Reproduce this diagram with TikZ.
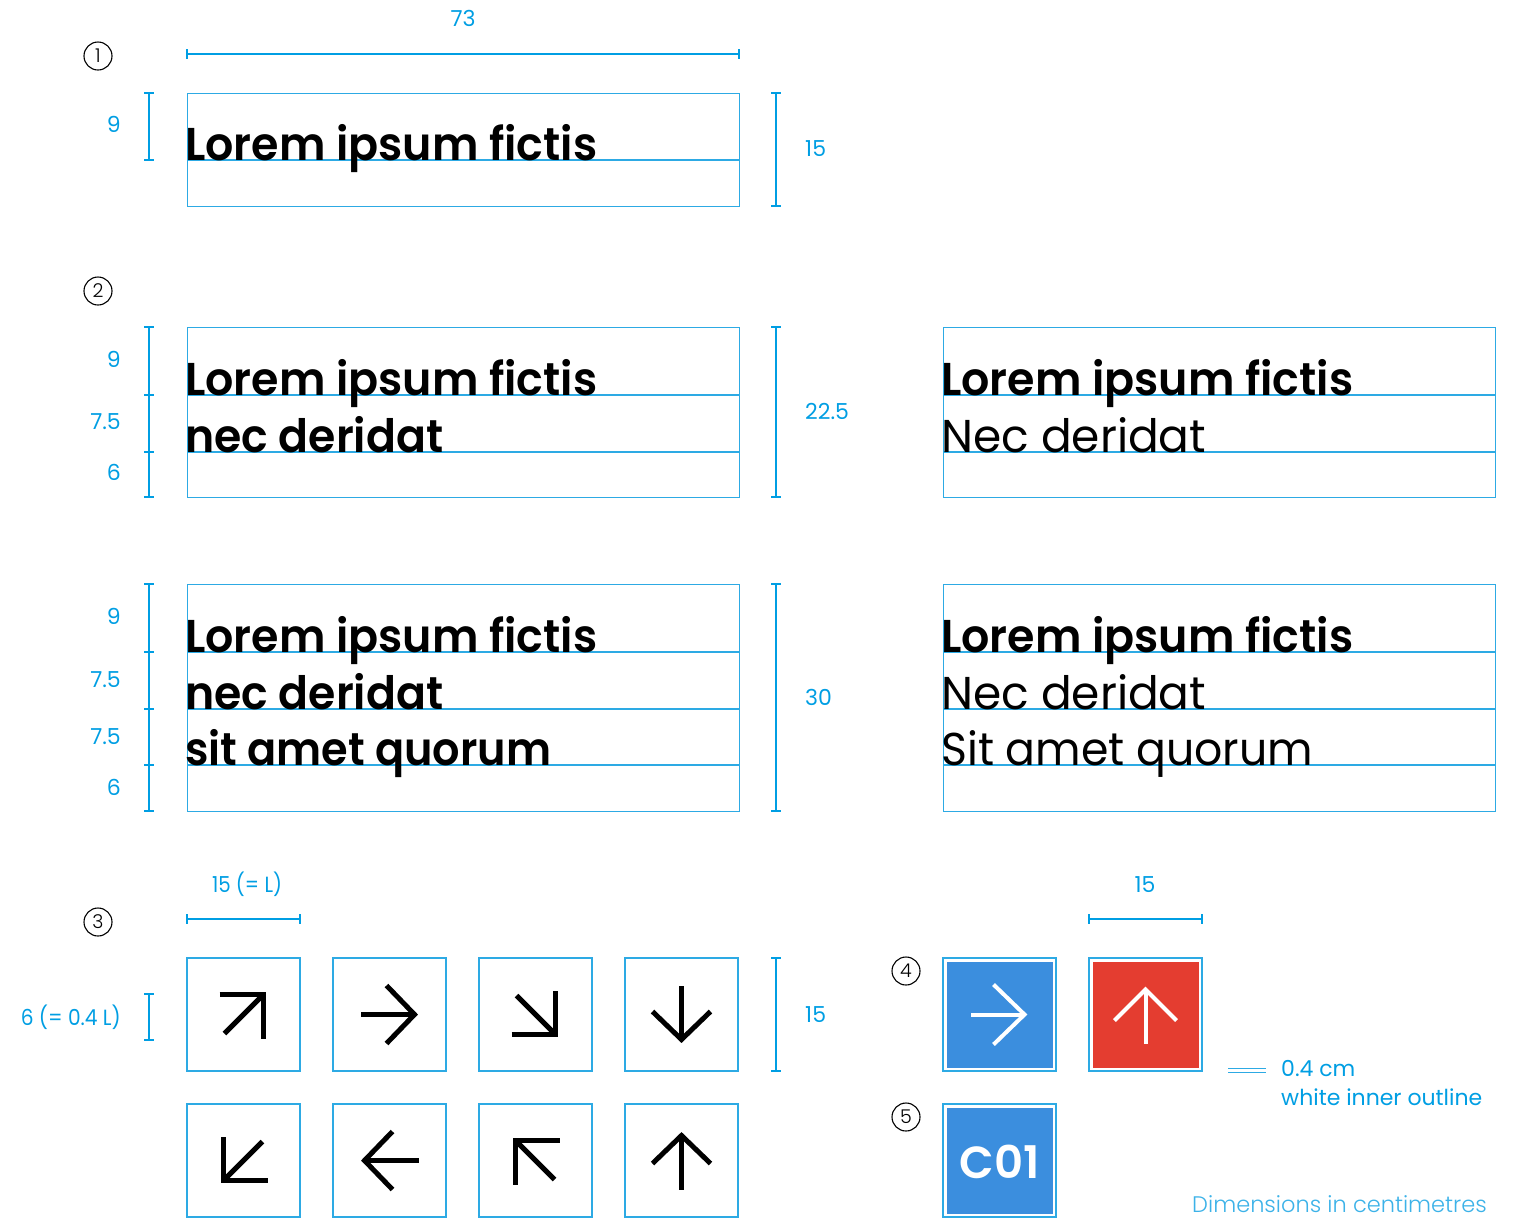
\documentclass[tikz,border=0pt]{standalone}
\usepackage{fontspec}
\setmainfont{Poppins}[BoldFont={Poppins SemiBold}]
\newfontfamily\lightf{Poppins Light}
\usepackage{graphicx}
\definecolor{dimc}{RGB}{0,158,227}
\definecolor{boxc}{RGB}{45,170,228}
\definecolor{notec}{RGB}{60,178,232}
\definecolor{signblue}{RGB}{59,142,222}
\definecolor{signred}{RGB}{228,61,48}
\newcommand\bigtxt{\fontsize{46}{50}\selectfont}
\newcommand\btext[2]{{\bigtxt\bfseries\resizebox{#1pt}{\height}{#2}}}
\newcommand\rtext[2]{{\bigtxt\resizebox{#1pt}{\height}{#2}}}
% diagonal arrow: cx, cy, sx, sy, colour, width
\newcommand\icndiag[6]{%
  \draw[line width=#6, draw=#5, line join=miter, miter limit=10]
    ({#1+20*#3-44*#3},{#2+20*#4}) -- ({#1+20*#3},{#2+20*#4}) -- ({#1+20*#3},{#2+20*#4-44*#4});
  \draw[line width=#6, draw=#5] ({#1+20*#3},{#2+20*#4}) -- ({#1-19*#3},{#2-19*#4});}
% straight arrow: cx, cy, dx, dy, colour, width, armback, armspread
\newcommand\icnstraight[8]{%
  \draw[line width=#6, draw=#5, line join=miter, miter limit=10]
    ({#1+25*#3-#7*#3+#8*#4},{#2+25*#4-#7*#4+#8*#3}) -- ({#1+25*#3},{#2+25*#4}) -- ({#1+25*#3-#7*#3-#8*#4},{#2+25*#4-#7*#4-#8*#3});
  \draw[line width=#6, draw=#5] ({#1+25*#3},{#2+25*#4}) -- ({#1-29*#3},{#2-29*#4});}
\tikzset{
  boxframe/.style={draw=boxc, line width=1.4pt, minimum width=552pt, anchor=north west, inner sep=0pt},
  guide/.style={draw=boxc, line width=1.2pt},
  dimline/.style={draw=dimc, line width=1.8pt},
  lbl/.style={text=dimc, font=\fontsize{22}{26}\selectfont, inner sep=0pt},
  bigt/.style={inner sep=0pt, anchor=base west},
  num/.style={circle, draw=black, line width=1.1pt, minimum size=28pt, inner sep=0pt, font=\lightf\fontsize{19}{20}\selectfont},
  iconbox/.style={draw=boxc, line width=1.4pt, minimum size=113pt, inner sep=0pt},
  signout/.style={draw=boxc, line width=1.3pt, minimum size=113pt, inner sep=0pt},
}
\begin{document}
\begin{tikzpicture}[x=1pt,y=-1pt]
\useasboundingbox (0,0) rectangle (1514,1219);

% ---------- circled numbers
\node[num] (n1) at (98,56) {1};
\node[num] (n2) at (98,291) {2};
\node[num] (n3) at (98,922) {3};
\node[num] (n4) at (906,971) {4};
\node[num] (n5) at (906,1117) {5};

% ---------- section 1
\coordinate (w1a) at (187,54); \coordinate (w1b) at (739,54);
\draw[dimline] (w1a) -- (w1b);
\draw[dimline] (187,49) -- (187,59); \draw[dimline] (739,49) -- (739,59);
\node[lbl, anchor=base] (l73) at (463,26) {73};

\node[boxframe, minimum height=113pt] (b1) at (187,93) {};
\draw[guide] (187,160) -- (739,160);
\node[bigt] (t1) at (185,160) {\btext{412}{Lorem ipsum fictis}};

\draw[dimline] (149,93) -- (149,160);
\foreach \yy in {93,160} \draw[dimline] (144,\yy) -- (154,\yy);
\node[lbl, anchor=base east] (l9a) at (121,132) {9};
\draw[dimline] (776,93) -- (776,206);
\foreach \yy in {93,206} \draw[dimline] (771,\yy) -- (781,\yy);
\node[lbl, anchor=base west] (l15a) at (805,156) {15};

% ---------- section 2
\node[boxframe, minimum height=170pt] (b2) at (187,327) {};
\draw[guide] (187,395) -- (739,395);
\draw[guide] (187,452) -- (739,452);
\node[bigt] (t2a) at (185,395) {\btext{412}{Lorem ipsum fictis}};
\node[bigt] (t2b) at (185,452) {\btext{258}{nec deridat}};

\draw[dimline] (149,327) -- (149,497);
\foreach \yy in {327,395,452,497} \draw[dimline] (144,\yy) -- (154,\yy);
\node[lbl, anchor=base east] (l9b) at (121,367) {9};
\node[lbl, anchor=base east] (l75b) at (121,429) {7.5};
\node[lbl, anchor=base east] (l6b) at (121,480) {6};
\draw[dimline] (776,327) -- (776,497);
\foreach \yy in {327,497} \draw[dimline] (771,\yy) -- (781,\yy);
\node[lbl, anchor=base west] (l225) at (805,419) {22.5};

\node[boxframe, minimum height=170pt] (b2r) at (943,327) {};
\draw[guide] (943,395) -- (1495,395);
\draw[guide] (943,452) -- (1495,452);
\node[bigt] (t2c) at (941,395) {\btext{412}{Lorem ipsum fictis}};
\node[bigt] (t2d) at (941,452) {\rtext{265}{Nec deridat}};

% ---------- section 2b
\node[boxframe, minimum height=227pt] (b3) at (187,584) {};
\foreach \yy in {652,709,765} \draw[guide] (187,\yy) -- (739,\yy);
\node[bigt] (t3a) at (185,652) {\btext{412}{Lorem ipsum fictis}};
\node[bigt] (t3b) at (185,709) {\btext{258}{nec deridat}};
\node[bigt] (t3c) at (185,765) {\btext{366}{sit amet quorum}};

\draw[dimline] (149,584) -- (149,811);
\foreach \yy in {584,652,709,765,811} \draw[dimline] (144,\yy) -- (154,\yy);
\node[lbl, anchor=base east] (l9c) at (121,624) {9};
\node[lbl, anchor=base east] (l75c) at (121,687) {7.5};
\node[lbl, anchor=base east] (l75d) at (121,744) {7.5};
\node[lbl, anchor=base east] (l6c) at (121,795) {6};
\draw[dimline] (776,584) -- (776,811);
\foreach \yy in {584,811} \draw[dimline] (771,\yy) -- (781,\yy);
\node[lbl, anchor=base west] (l30) at (805,705) {30};

\node[boxframe, minimum height=227pt] (b3r) at (943,584) {};
\foreach \yy in {652,709,765} \draw[guide] (943,\yy) -- (1495,\yy);
\node[bigt] (t3d) at (941,652) {\btext{412}{Lorem ipsum fictis}};
\node[bigt] (t3e) at (941,709) {\rtext{265}{Nec deridat}};
\node[bigt] (t3f) at (941,765) {\rtext{372}{Sit amet quorum}};

% ---------- section 3: arrows
\draw[dimline] (187,919) -- (300,919);
\draw[dimline] (187,914) -- (187,924); \draw[dimline] (300,914) -- (300,924);
\node[lbl, anchor=base] (l15L) at (247,892) {\resizebox{70pt}{\height}{15 (= L)}};

\draw[dimline] (149,994) -- (149,1040);
\foreach \yy in {994,1040} \draw[dimline] (144,\yy) -- (154,\yy);
\node[lbl, anchor=base east] (l6L) at (121,1025) {\resizebox{100pt}{\height}{6 (= 0.4 L)}};

\draw[dimline] (776,958) -- (776,1071);
\foreach \yy in {958,1071} \draw[dimline] (771,\yy) -- (781,\yy);
\node[lbl, anchor=base west] (l15b) at (805,1022) {15};

\node[iconbox] (i1) at (243.5,1014.5) {};
\node[iconbox] (i2) at (389.5,1014.5) {};
\node[iconbox] (i3) at (535.5,1014.5) {};
\node[iconbox] (i4) at (681.5,1014.5) {};
\node[iconbox] (i5) at (243.5,1160.5) {};
\node[iconbox] (i6) at (389.5,1160.5) {};
\node[iconbox] (i7) at (535.5,1160.5) {};
\node[iconbox] (i8) at (681.5,1160.5) {};

\icndiag{243.5}{1014.5}{1}{-1}{black}{5pt}
\icnstraight{389.5}{1014.5}{1}{0}{black}{5pt}{28}{29}
\icndiag{535.5}{1014.5}{1}{1}{black}{5pt}
\icnstraight{681.5}{1014.5}{0}{1}{black}{5pt}{28}{29}
\icndiag{243.5}{1160.5}{-1}{1}{black}{5pt}
\icnstraight{389.5}{1160.5}{-1}{0}{black}{5pt}{28}{29}
\icndiag{535.5}{1160.5}{-1}{-1}{black}{5pt}
\icnstraight{681.5}{1160.5}{0}{-1}{black}{5pt}{28}{29}

% ---------- section 4
\draw[dimline] (1089,919) -- (1202,919);
\draw[dimline] (1089,914) -- (1089,924); \draw[dimline] (1202,914) -- (1202,924);
\node[lbl, anchor=base] (l15c) at (1145,892) {15};

\node[signout] (s1) at (999.5,1014.5) {};
\fill[signblue] (946.5,961.5) rectangle (1052.5,1067.5);
\icnstraight{999.5}{1014.5}{1}{0}{white}{4pt}{31}{30}
\node[signout] (s2) at (1145.5,1014.5) {};
\fill[signred] (1092.5,961.5) rectangle (1198.5,1067.5);
\icnstraight{1145.5}{1014.5}{0}{-1}{white}{4pt}{31}{31}

\draw[boxc, line width=1pt] (1228,1068) -- (1266,1068);
\draw[boxc, line width=1pt] (1228,1072) -- (1266,1072);
\node[lbl, anchor=base west] (l04) at (1281,1076) {0.4 cm};
\node[lbl, anchor=base west] (lwh) at (1281,1105) {white inner outline};

% ---------- section 5
\node[signout] (s3) at (999.5,1160.5) {};
\fill[signblue] (946.5,1107.5) rectangle (1052.5,1213.5);
\node[text=white, font=\fontsize{45}{48}\selectfont\bfseries, inner sep=0pt] (c01) at (999.5,1162) {C01};

\node[lbl, text=notec, font=\lightf\fontsize{22.5}{26}\selectfont, anchor=base east] (ldim) at (1487,1212) {Dimensions in centimetres};
\end{tikzpicture}
\end{document}
